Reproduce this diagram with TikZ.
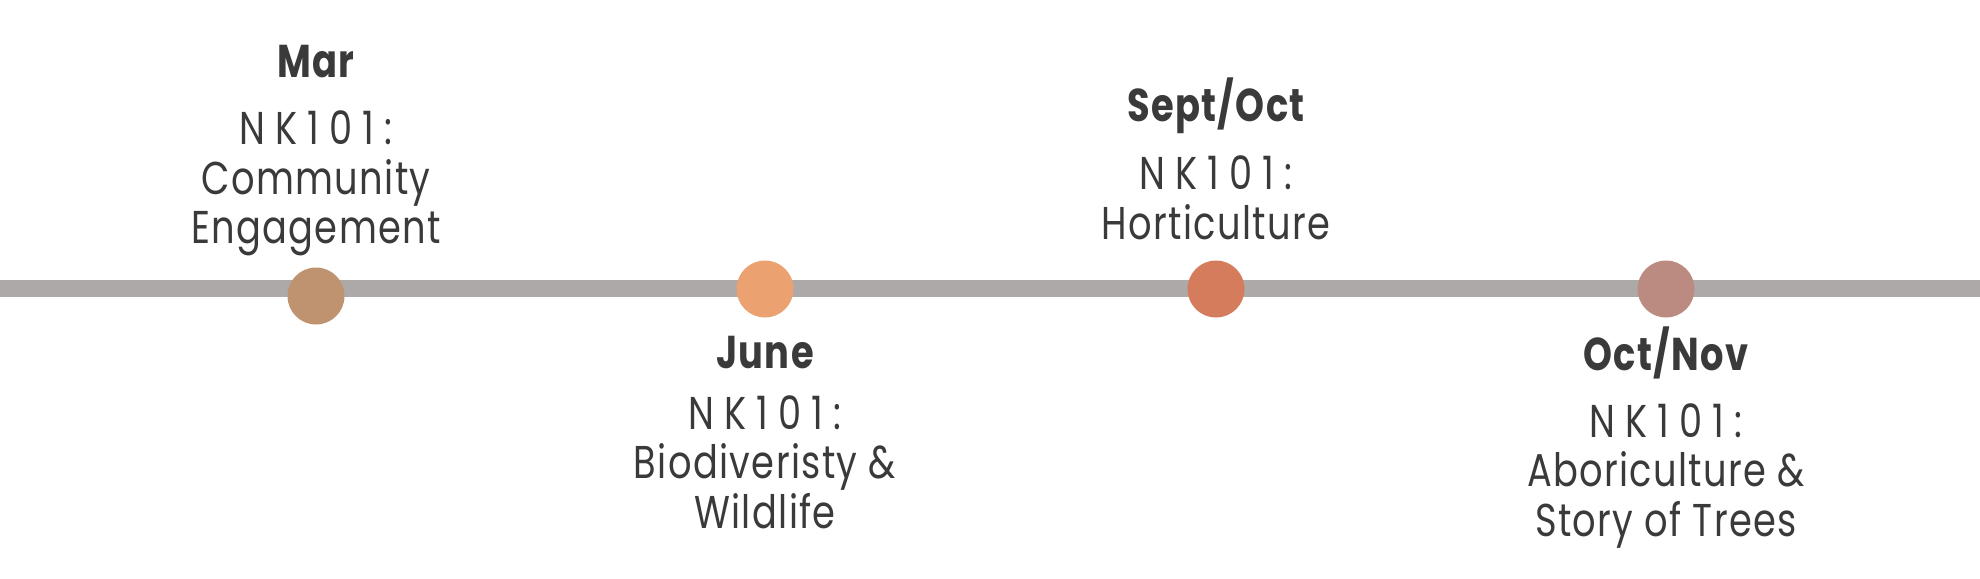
\documentclass[tikz,border=0pt]{standalone}
\usepackage{fontspec}
\setmainfont{Poppins}[FakeStretch=0.8,LetterSpace=3]
\usepackage{xcolor}
\definecolor{lineGray}{RGB}{173,169,168}
\definecolor{textGray}{RGB}{58,58,58}
\definecolor{dotMar}{RGB}{191,147,112}
\definecolor{dotJune}{RGB}{235,161,112}
\definecolor{dotSept}{RGB}{212,124,92}
\definecolor{dotOct}{RGB}{187,138,128}
% the course code is set with wider spacing
\newcommand{\nkCode}{{\addfontfeature{LetterSpace=22}NK101:}}

\begin{document}
\begin{tikzpicture}[x=0.5pt,y=0.5pt,yscale=-1,xscale=1]
        \tikzset{
            dot/.style={circle,inner sep=0pt,minimum size=28.5pt},
            month/.style={anchor=base,inner sep=0pt,text=textGray,font=\fontsize{23}{24.75}\selectfont\bfseries},
            topic/.style={anchor=base,inner sep=0pt,text=textGray,align=center,font=\fontsize{23}{24.75}\selectfont}
        }
        \useasboundingbox (0,0) rectangle (1980,578);
        \coordinate (lineL) at (0,288.5);
        \coordinate (lineR) at (1980,288.5);
        \draw [line width=8.5pt,color=lineGray] (lineL) -- (lineR);

        \node [dot,fill=dotMar] (mar) at (316,296) {};
        \node [dot,fill=dotJune] (june) at (765,289) {};
        \node [dot,fill=dotSept] (sept) at (1216,289) {};
        \node [dot,fill=dotOct] (oct) at (1666,289) {};

        % base of a topic node is the baseline of its last line
        \draw (316,77) node [month] (marM) {Mar};
        \draw (316,243.5) node [topic] (marT) {\nkCode\\Community\\Engagement};
        \draw (765,368) node [month] (juneM) {June};
        \draw (765,528) node [topic] (juneT) {\nkCode\\Biodiveristy \&\\Wildlife};
        \draw (1216,121) node [month] (septM) {Sept/Oct};
        \draw (1216,239) node [topic] (septT) {\nkCode\\Horticulture};
        \draw (1666,370) node [month] (octM) {Oct/Nov};
        \draw (1666,536) node [topic] (octT) {\nkCode\\Aboriculture \&\\Story of Trees};

    \end{tikzpicture}
\end{document}
